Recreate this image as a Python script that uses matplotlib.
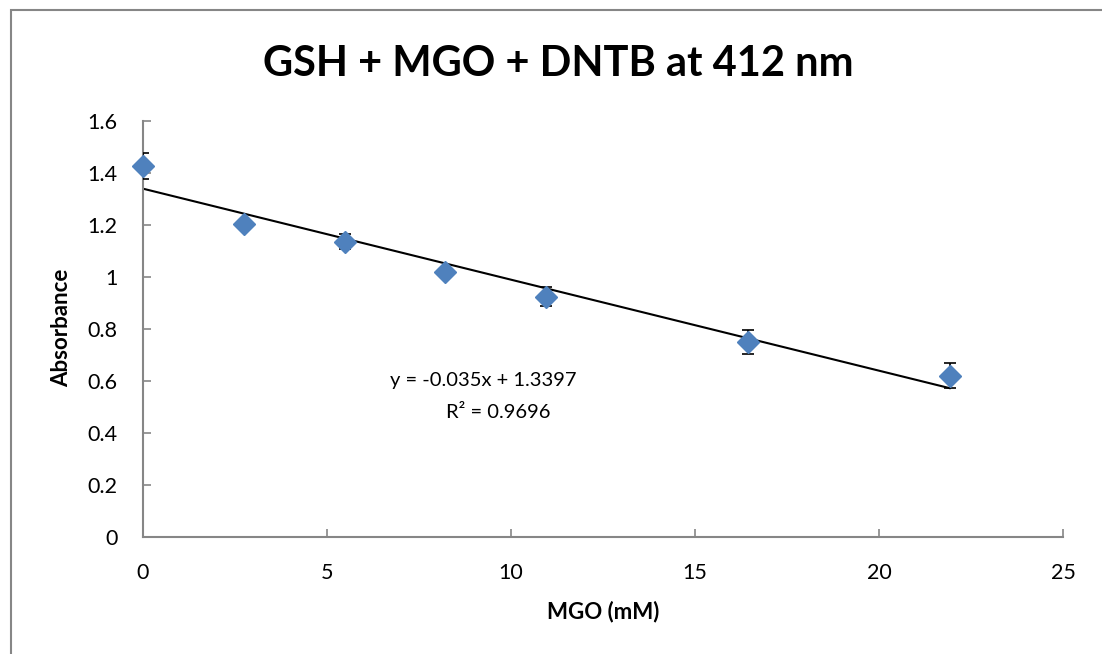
import matplotlib
matplotlib.use("Agg")
import matplotlib.pyplot as plt
from matplotlib.patches import Rectangle
import numpy as np

# Data
mgo_mM = [0.0, 2.74, 5.48, 8.22, 10.96, 16.44, 21.92]
absorbance = [1.428, 1.204, 1.136, 1.018, 0.924, 0.751, 0.620]
abs_err = [0.05, 0.015, 0.03, 0.015, 0.036, 0.046, 0.048]
fit_slope = -0.035
fit_intercept = 1.3397
fit_r2 = 0.9696

title = "GSH + MGO + DNTB at 412 nm"
xlabel = "MGO (mM)"
ylabel = "Absorbance"
xticks = [0, 5, 10, 15, 20, 25]
yticks = [0, 0.2, 0.4, 0.6, 0.8, 1.0, 1.2, 1.4, 1.6]
ytick_labels = ["0", "0.2", "0.4", "0.6", "0.8", "1", "1.2", "1.4", "1.6"]

plt.rcParams['font.family'] = ['Lato', 'DejaVu Sans']

W, H = 1102, 654
fig = plt.figure(figsize=(W/100, H/100), dpi=100)
ax = fig.add_axes([143/W, 1-537/H, (1063-143)/W, (537-121)/H])

grey = '#868686'
# Outer chart border
fig.patches.append(Rectangle((10.5/W, -0.5), 2.0, 1.5 - 9.5/H, transform=fig.transFigure,
                             fill=False, edgecolor=grey, linewidth=1.5, zorder=0))

# Trendline
xl = np.array([min(mgo_mM), max(mgo_mM)])
ax.plot(xl, fit_slope*xl + fit_intercept, color='black', linewidth=1.5, zorder=2)

ax.errorbar(mgo_mM, absorbance, yerr=abs_err, fmt='none', ecolor='black',
            elinewidth=1.2, capsize=4.5, capthick=1.2, zorder=3)
ax.plot(mgo_mM, absorbance, linestyle='none', marker='D', markersize=11,
        color='#4F81BD', markeredgecolor='#4F81BD', zorder=4, clip_on=False)

ax.set_xlim(0, 25)
ax.set_ylim(0, 1.6)
ax.set_xticks(xticks)
ax.set_yticks(yticks)
ax.set_yticklabels(ytick_labels)

for s in ['top', 'right']:
    ax.spines[s].set_visible(False)
for s in ['left', 'bottom']:
    ax.spines[s].set_color(grey)
    ax.spines[s].set_linewidth(1.5)
ax.tick_params(direction='in', length=6, width=1.2, color=grey, labelsize=15.5,
               labelcolor='black')
ax.tick_params(axis='x', pad=18.5)
ax.tick_params(axis='y', pad=18.5)

fig.text(603/W, 1-612/H, xlabel, fontsize=16, fontweight='bold', ha='center', va='center')
fig.text(62/W, 1-328/H, ylabel, fontsize=16, fontweight='bold', ha='center', va='center',
         rotation=90)
fig.text(0.5 * (258 + 858) / W, 1 - 64/H, title, fontsize=30, fontweight='bold',
         ha='center', va='center')

fig.text(483/W, 1-381/H, f"y = {fit_slope}x + {fit_intercept}", fontsize=14.5,
         ha='center', va='center')
fig.text(498/W, 1-412/H, f"R² = {fit_r2}", fontsize=14.5, ha='center', va='center')

fig.savefig("out.png", dpi=100)
